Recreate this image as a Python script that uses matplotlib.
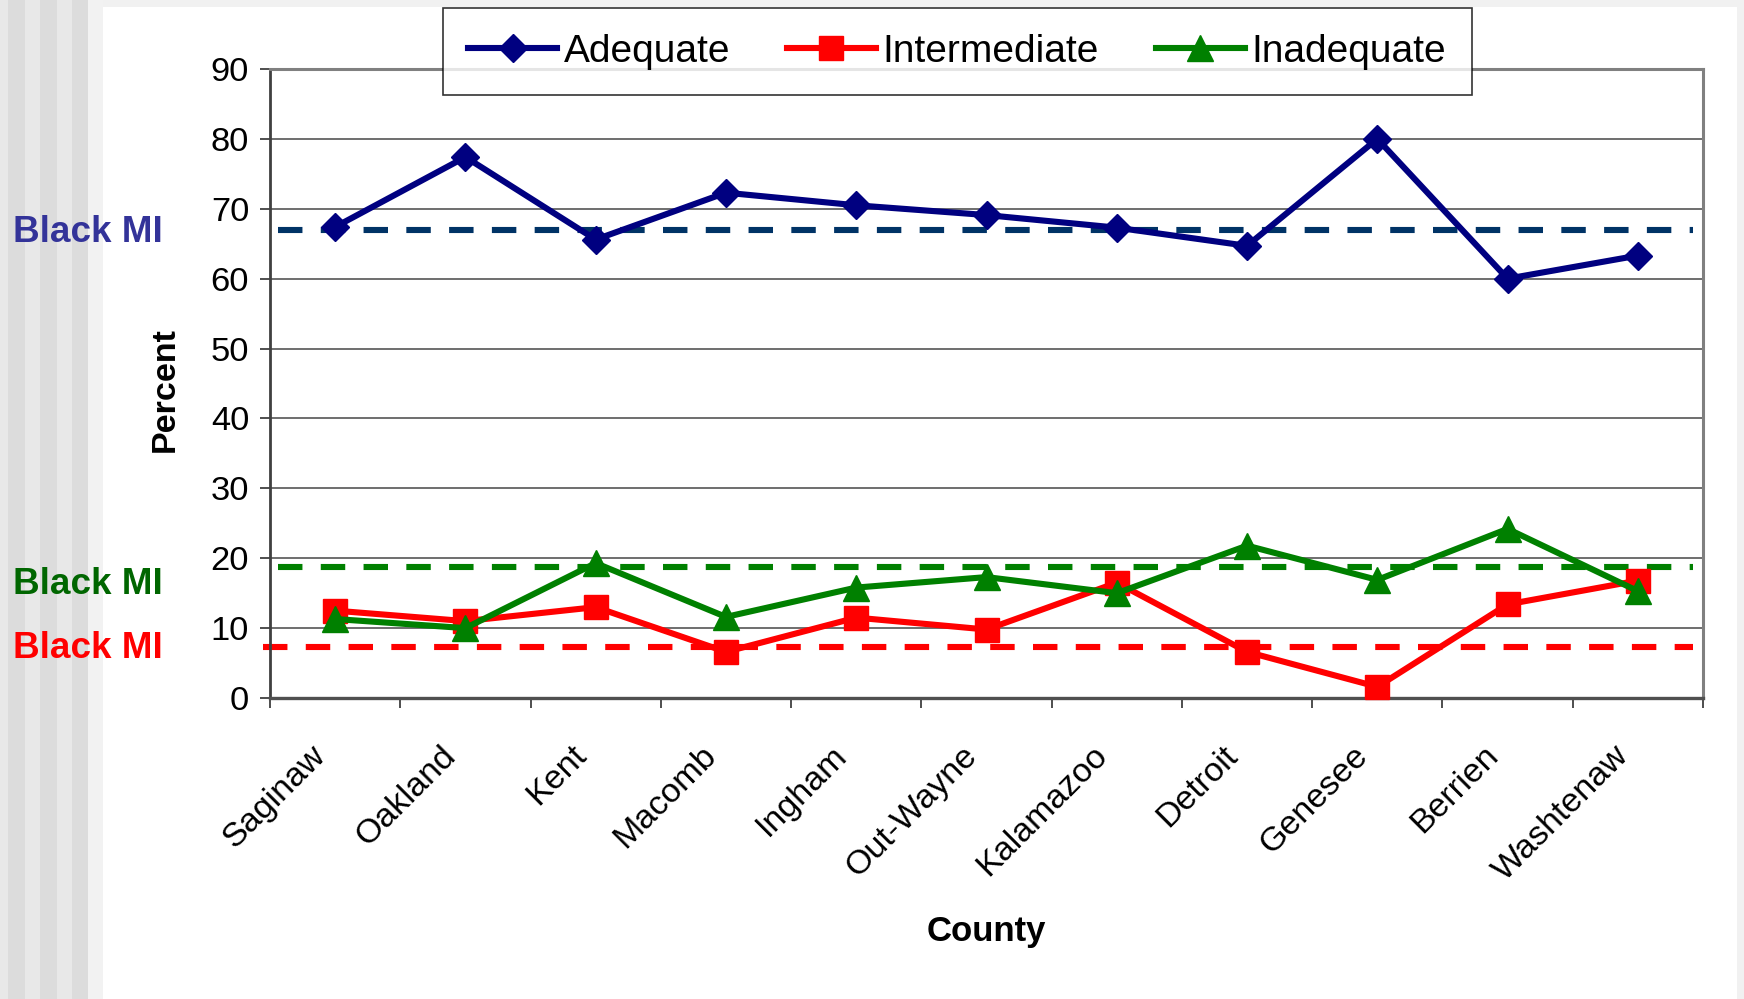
import matplotlib
matplotlib.use("Agg")
import matplotlib.pyplot as plt
from matplotlib.patches import Rectangle
from matplotlib.transforms import ScaledTranslation
import numpy as np

# ---------------- data ----------------
counties = ['Saginaw', 'Oakland', 'Kent', 'Macomb', 'Ingham', 'Out-Wayne',
            'Kalamazoo', 'Detroit', 'Genesee', 'Berrien', 'Washtenaw']
adequate = [67.4, 77.4, 65.6, 72.3, 70.5, 69.1, 67.3, 64.7, 80.0, 60.0, 63.3]
intermediate = [12.5, 11.0, 13.0, 6.6, 11.5, 9.8, 16.5, 6.6, 1.6, 13.4, 16.8]
inadequate = [11.3, 10.0, 19.3, 11.6, 15.8, 17.3, 15.0, 21.8, 16.9, 24.2, 15.3]
black_mi_adequate = 66.9
black_mi_inadequate = 18.8
black_mi_intermediate = 7.3
ref_label = 'Black MI'
yticks = [0, 10, 20, 30, 40, 50, 60, 70, 80, 90]

plt.rcParams['font.family'] = ['Liberation Sans', 'DejaVu Sans']

W, H = 1744, 999
fig = plt.figure(figsize=(W / 100, H / 100), dpi=100)
fig.patch.set_facecolor('white')

# decorative background (left stripes, top band)
stripes = [(0, 8, '#e8e8e8'), (8, 25, '#dcdcdc'), (25, 40, '#e8e8e8'),
           (40, 57, '#dcdcdc'), (57, 72, '#e8e8e8'), (72, 88, '#dcdcdc'),
           (88, 103, '#f2f2f2')]
for x0, x1, c in stripes:
    fig.patches.append(Rectangle((x0 / W, 0), (x1 - x0) / W, 1, transform=fig.transFigure,
                                 facecolor=c, edgecolor='none', zorder=-10))
fig.patches.append(Rectangle((103 / W, 1 - 7 / H), 1, 7 / H, transform=fig.transFigure,
                             facecolor='#f1f1f1', edgecolor='none', zorder=-10))
fig.patches.append(Rectangle((1737 / W, 0), 1, 1, transform=fig.transFigure,
                             facecolor='#f1f1f1', edgecolor='none', zorder=-10))

ax_l, ax_r, ax_t, ax_b = 270, 1703, 69, 698
ax = fig.add_axes([ax_l / W, 1 - ax_b / H, (ax_r - ax_l) / W, (ax_b - ax_t) / H])
ax.set_facecolor('white')

x = np.arange(len(counties))
ax.set_xlim(-0.5, len(counties) - 0.5)
ax.set_ylim(0, 90)

# grid
ax.set_yticks(yticks)
ax.yaxis.grid(True, color='#555555', linewidth=1.2, zorder=0)
ax.set_axisbelow(True)

# reference dashed lines
lw = 4.4
ax.plot([-0.44, 10.42], [black_mi_adequate] * 2, color='#003366', lw=lw,
        dashes=(4, 3), zorder=2, clip_on=False)
ax.plot([-0.44, 10.42], [black_mi_inadequate] * 2, color='#008000', lw=lw,
        dashes=(4, 3), zorder=2, clip_on=False)
ax.plot([-0.55, 10.42], [black_mi_intermediate] * 2, color='#ff0000', lw=lw,
        dashes=(4, 3), zorder=2, clip_on=False)

# series
ax.plot(x, adequate, color='#000080', lw=lw, marker='D', markersize=14.5,
        markeredgewidth=1, zorder=5, label='Adequate', clip_on=False)
ax.plot(x, intermediate, color='#ff0000', lw=lw, marker='s', markersize=17,
        markeredgewidth=1, zorder=4, label='Intermediate', clip_on=False)
ax.plot(x, inadequate, color='#008000', lw=lw, marker='^', markersize=19,
        markeredgewidth=1, zorder=4, label='Inadequate', clip_on=False)

# spines
for s in ['top', 'right']:
    ax.spines[s].set_color('#808080')
    ax.spines[s].set_linewidth(2.2)
ax.spines['left'].set_color('#404040')
ax.spines['left'].set_linewidth(2.0)
ax.spines['bottom'].set_color('#505050')
ax.spines['bottom'].set_linewidth(2.4)

# ticks
ax.tick_params(axis='y', direction='out', length=7, width=1.3, color='#404040',
               labelsize=24.8, pad=8)
ax.set_xticks(np.arange(-0.5, len(counties), 1.0))
ax.set_xticklabels([])
ax.tick_params(axis='x', which='major', direction='out', length=7, width=1.3, color='#404040')
ax.set_xticks(x, minor=True)
ax.set_xticklabels(counties, minor=True, rotation=45, ha='right', va='center',
                   rotation_mode='anchor', fontsize=24.5)
ax.tick_params(axis='x', which='minor', length=0, pad=38)
shift = ScaledTranslation(-0.14, 0.0, fig.dpi_scale_trans)
for lab in ax.get_xticklabels(minor=True):
    lab.set_transform(lab.get_transform() + shift)

# axis labels
ax.set_ylabel('Percent', fontsize=24.5, fontweight='bold')
ax.yaxis.set_label_coords(-0.0733, 0.49)
ax.yaxis.label.set_va('center')
ax.set_xlabel('County', fontsize=25, fontweight='bold')
ax.xaxis.set_label_coords(0.5, -(931 - ax_b) / (ax_b - ax_t))
ax.xaxis.label.set_va('center')

# side labels
fig.text(13 / W, 1 - 233 / H, ref_label, color='#333399', fontsize=26.6,
         fontweight='bold', ha='left', va='center')
fig.text(13 / W, 1 - 584 / H, ref_label, color='#006600', fontsize=26.6,
         fontweight='bold', ha='left', va='center')
fig.text(13 / W, 1 - 648 / H, ref_label, color='#ff0000', fontsize=26.6,
         fontweight='bold', ha='left', va='center')

# legend
leg = ax.legend(loc='center', bbox_to_anchor=(957 / W, 1 - 51.5 / H),
                bbox_transform=fig.transFigure, ncol=3, fontsize=28,
                frameon=True, fancybox=False, shadow=False, handlelength=2.3,
                handletextpad=0.17, columnspacing=1.45, borderpad=0.65,
                markerscale=1.0)
leg.get_frame().set_edgecolor('black')
leg.get_frame().set_linewidth(1.2)
leg.set_zorder(20)

fig.savefig('out.png', dpi=100)
